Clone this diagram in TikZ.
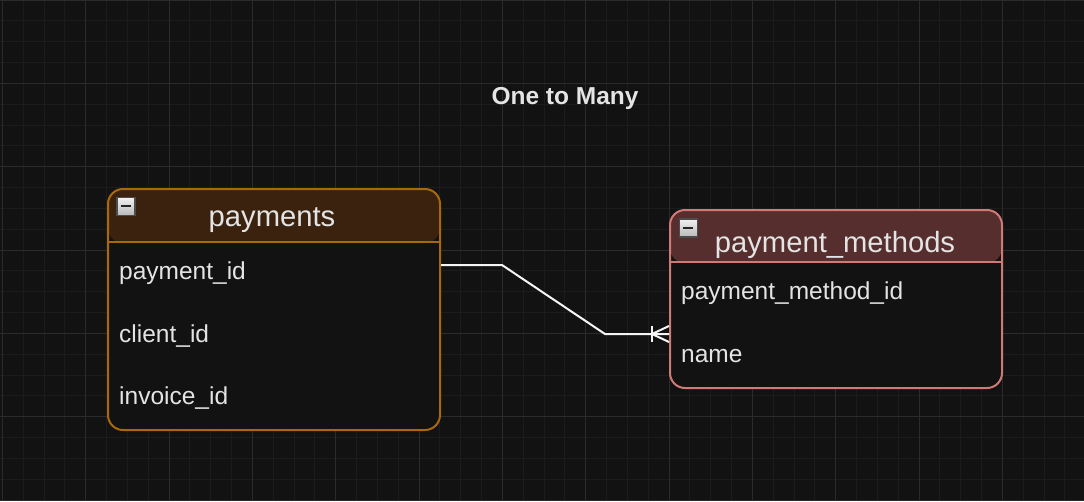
\documentclass[tikz,border=0pt]{standalone}
\usepackage{fontspec}
\setmainfont{Liberation Sans}
\usetikzlibrary{positioning}

\definecolor{canvas}{HTML}{121212}
\definecolor{gridminor}{HTML}{1C1C1C}
\definecolor{gridmajor}{HTML}{2B2B2B}
\definecolor{paybrd}{HTML}{A8690C}
\definecolor{payhead}{HTML}{3B220E}
\definecolor{methbrd}{HTML}{D07A77}
\definecolor{methhead}{HTML}{552E2D}
\definecolor{inktext}{HTML}{E4E4E4}

\tikzset{
  entity/.style={line width=2pt, rounded corners=15pt, inner sep=0pt, anchor=north west, fill=canvas},
  field/.style={anchor=base west, inner sep=0pt, text=inktext, font=\fontsize{24.5}{29}\selectfont},
  caption/.style={anchor=base, inner sep=0pt, text=inktext, font=\fontsize{29.2}{35}\selectfont},
  toggle/.style={draw=gray!60!black, line width=1.5pt, minimum size=18pt, inner sep=0pt,
    top color=white!90!gray, bottom color=gray!55, anchor=north west,
    path picture={\draw[black!85, line width=2.2pt] ([xshift=4pt]path picture bounding box.west) -- ([xshift=-4pt]path picture bounding box.east);}},
  link/.style={draw=white!92!gray, line width=2pt}
}

\begin{document}
\begin{tikzpicture}[x=1pt,y=-1pt]
    \useasboundingbox (0,0) rectangle (1084,501);
    \fill[canvas] (0,0) rectangle (1084,501);

    % background grid, minor lines then every fourth one brighter
    \foreach \i in {0,1,...,52}{
        \draw[gridminor, line width=1pt] ({2.5+20.833*\i},0) -- ++(0,501);
    }
    \foreach \j in {0,1,...,24}{
        \draw[gridminor, line width=1pt] (0,{20.833*\j}) -- ++(1084,0);
    }
    \foreach \i in {0,1,...,13}{
        \draw[gridmajor, line width=1pt] ({2.5+83.333*\i},0) -- ++(0,501);
    }
    \foreach \j in {0,1,...,6}{
        \draw[gridmajor, line width=1pt] (0,{83.333*\j}) -- ++(1084,0);
    }

    \node[anchor=base, text=inktext, font=\fontsize{24.5}{29}\selectfont\bfseries] (heading) at (565,104) {One to Many};

    % payments table
    \node[entity, draw=paybrd, minimum width=332pt, minimum height=241pt,
          path picture={\fill[payhead] (path picture bounding box.north west) rectangle ([yshift=-54pt]path picture bounding box.north east);}]
          (payments) at (107,188) {};
    \draw[paybrd, line width=2pt] ([yshift=-54pt]payments.north west) -- ([yshift=-54pt]payments.north east);
    \node[toggle] (ptoggle) at (116,196.5) {};
    \node[caption] (ptitle) at (272,226) {payments};
    \node[field] (pid) at (119,279) {payment\_id};
    \node[field] (pclient) at (119,342) {client\_id};
    \node[field] (pinvoice) at (119,404) {invoice\_id};

    % payment_methods table
    \node[entity, draw=methbrd, minimum width=332pt, minimum height=178pt,
          path picture={\fill[methhead] (path picture bounding box.north west) rectangle ([yshift=-53pt]path picture bounding box.north east);}]
          (methods) at (669,209) {};
    \draw[methbrd, line width=2pt] ([yshift=-53pt]methods.north west) -- ([yshift=-53pt]methods.north east);
    \node[toggle] (mtoggle) at (678.5,218) {};
    \node[caption] (mtitle) at (835,252) {payment\_methods};
    \node[field] (mid) at (681,299) {payment\_method\_id};
    \node[field] (mname) at (681,362) {name};

    % relation with crow's foot on the many side
    \coordinate (p-end) at (payments.east |- 0,265);
    \coordinate (m-end) at (methods.west |- 0,334);
    \draw[link] (p-end) -- ++(61,0) -- ([xshift=-64pt]m-end) -- (m-end);
    \draw[link] (m-end) ++(0,-8) -- ++(-17,8) -- ++(17,8);
    \draw[link] (m-end) ++(-17,-8) -- ++(0,16);
\end{tikzpicture}
\end{document}
